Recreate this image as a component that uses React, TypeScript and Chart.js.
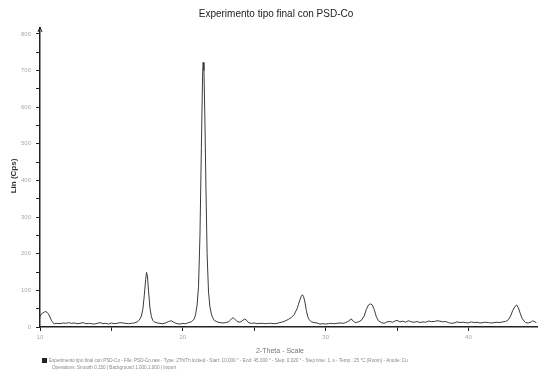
import React, { useEffect, useRef } from "react";
import { Chart, registerables } from "chart.js";

Chart.register(...registerables);

const chartTitle = "Experimento tipo final con PSD-Co";
const xAxisTitle = "2-Theta - Scale";
const yAxisTitle = "Lin (Cps)";
const legendLine1 =
  "Experimento tipo final con PSD-Co - File: PSD-Co.raw - Type: 2Th/Th locked - Start: 10.000 ° - End: 45.000 ° - Step: 0.020 ° - Step time: 1. s - Temp.: 25 °C (Room) - Anode: Cu";
const legendLine2 = "Operations: Smooth 0.150 | Background 1.000,1.000 | Import";

const twoTheta = [
  10.0, 10.1, 10.2, 10.3, 10.4, 10.5, 10.6, 10.7, 10.8, 10.9, 11.0, 11.2, 11.4, 11.6, 11.8,
  12.0, 12.2, 12.4, 12.6, 12.8, 13.0, 13.2, 13.4, 13.6, 13.8, 14.0, 14.2, 14.4, 14.6, 14.8,
  15.0, 15.2, 15.4, 15.6, 15.8, 16.0, 16.2, 16.4, 16.6, 16.8, 16.9, 17.0, 17.1, 17.2, 17.3,
  17.4, 17.46, 17.52, 17.6, 17.7, 17.8, 17.9, 18.0, 18.2, 18.4, 18.6, 18.8, 19.0, 19.2, 19.4,
  19.6, 19.8, 20.0, 20.2, 20.4, 20.6, 20.8, 20.9, 21.0, 21.1, 21.2, 21.3, 21.38, 21.42, 21.48,
  21.55, 21.62, 21.7, 21.8, 21.9, 22.0, 22.1, 22.2, 22.4, 22.6, 22.8, 23.0, 23.2, 23.4, 23.5,
  23.6, 23.8, 24.0, 24.2, 24.34, 24.5, 24.6, 24.8, 25.0, 25.2, 25.4, 25.6, 25.8, 26.0, 26.2,
  26.4, 26.6, 26.8, 27.0, 27.2, 27.4, 27.6, 27.8, 28.0, 28.1, 28.2, 28.3, 28.37, 28.45, 28.55,
  28.65, 28.75, 28.85, 29.0, 29.2, 29.4, 29.6, 29.8, 30.0, 30.2, 30.4, 30.6, 30.8, 31.0, 31.2,
  31.4, 31.6, 31.8, 31.95, 32.1, 32.3, 32.5, 32.7, 32.85, 33.0, 33.12, 33.25, 33.4, 33.55, 33.7,
  33.9, 34.1, 34.3, 34.5, 34.7, 34.9, 35.0, 35.2, 35.4, 35.6, 35.8, 36.0, 36.2, 36.4, 36.6,
  36.8, 37.0, 37.2, 37.4, 37.6, 37.8, 38.0, 38.2, 38.4, 38.6, 38.8, 39.0, 39.2, 39.4, 39.6,
  39.8, 40.0, 40.2, 40.4, 40.6, 40.8, 41.0, 41.2, 41.4, 41.6, 41.8, 42.0, 42.2, 42.4, 42.6,
  42.8, 42.95, 43.1, 43.25, 43.38, 43.5, 43.62, 43.75, 43.9, 44.0, 44.2, 44.4, 44.5, 44.6, 44.75,
];

const counts = [
  28, 36, 38, 41, 42, 40, 35, 27, 18, 12, 9, 10, 9, 11, 10,
  12, 10, 11, 9, 10, 12, 9, 10, 9, 8, 10, 12, 9, 10, 8,
  11, 9, 10, 12, 11, 10, 9, 10, 11, 14, 17, 22, 30, 48, 85,
  130, 149, 140, 98, 52, 28, 18, 14, 11, 10, 9, 11, 15, 17, 12,
  9, 8, 10, 9, 12, 14, 22, 35, 60, 110, 250, 490, 680, 722, 700,
  560, 380, 200, 95, 55, 35, 25, 18, 14, 12, 11, 12, 14, 22, 25,
  23, 15, 13, 18, 22, 17, 12, 10, 11, 9, 10, 10, 9, 10, 10,
  9, 10, 12, 14, 17, 21, 26, 34, 50, 62, 74, 84, 88, 84, 68,
  45, 28, 20, 14, 12, 11, 8, 9, 8, 9, 10, 9, 10, 11, 10,
  12, 16, 22, 15, 12, 14, 18, 30, 48, 60, 63, 61, 48, 28, 17,
  12, 10, 14, 15, 13, 17, 18, 14, 16, 13, 17, 14, 13, 15, 12,
  14, 13, 16, 15, 15, 17, 16, 14, 15, 12, 10, 11, 14, 12, 13,
  12, 11, 14, 12, 13, 11, 12, 13, 12, 11, 12, 13, 12, 14, 15,
  20, 30, 45, 56, 60, 52, 38, 24, 16, 12, 11, 14, 17, 15, 12,
];

const xMin = 10;
const xMax = 44.8;
const yMin = 0;
const yMax = 816;

const textPlugin = {
  id: "xrdTexts",
  afterDraw(chart: any) {
    const ctx = chart.ctx as CanvasRenderingContext2D;
    const area = chart.chartArea;
    ctx.save();
    // title
    ctx.fillStyle = "#222";
    ctx.font = "10px 'Liberation Sans', Arial, sans-serif";
    ctx.textAlign = "center";
    ctx.textBaseline = "middle";
    ctx.fillText(chartTitle, 276, 14);
    // y axis title
    ctx.save();
    ctx.translate(14, 176);
    ctx.rotate(-Math.PI / 2);
    ctx.font = "bold 8px 'Liberation Sans', Arial, sans-serif";
    ctx.fillStyle = "#333";
    ctx.fillText(yAxisTitle, 0, 0);
    ctx.restore();
    // arrow at top of y axis
    ctx.strokeStyle = "#222";
    ctx.lineWidth = 1;
    ctx.beginPath();
    ctx.moveTo(area.left - 2, area.top + 4);
    ctx.lineTo(area.left, area.top - 1);
    ctx.lineTo(area.left + 2, area.top + 4);
    ctx.stroke();
    // x axis title
    ctx.font = "7px 'Liberation Sans', Arial, sans-serif";
    ctx.fillStyle = "#777";
    ctx.fillText(xAxisTitle, 280, 351);
    // legend
    ctx.fillStyle = "#222";
    ctx.fillRect(42, 358, 5, 5);
    ctx.font = "4.6px 'Liberation Sans', Arial, sans-serif";
    ctx.fillStyle = "#888";
    ctx.textAlign = "left";
    ctx.fillText(legendLine1, 49, 361);
    ctx.fillText(legendLine2, 52, 368);
    ctx.restore();
  },
};

export default function App() {
  const canvasRef = useRef<HTMLCanvasElement | null>(null);

  useEffect(() => {
    document.body.style.margin = "0";
    const canvas = canvasRef.current;
    if (!canvas) return;
    const points = twoTheta.map((x, i) => ({ x, y: counts[i] }));
    const chart = new Chart(canvas, {
      type: "line",
      data: {
        datasets: [
          {
            label: chartTitle,
            data: points,
            borderColor: "#3a3a3a",
            borderWidth: 1,
            pointRadius: 0,
            tension: 0,
            fill: false,
          },
        ],
      },
      options: {
        animation: false,
        responsive: false,
        maintainAspectRatio: false,
        layout: { padding: { top: 28, right: 1, left: 0, bottom: 0 } },
        plugins: {
          legend: { display: false },
          title: { display: false },
          tooltip: { enabled: false },
        },
        scales: {
          x: {
            type: "linear",
            min: xMin,
            max: xMax,
            afterFit: (axis: any) => {
              axis.height = 46;
            },
            border: { color: "#222", width: 1.5 },
            grid: { drawOnChartArea: false, color: "#222", tickLength: 4 },
            ticks: {
              stepSize: 5,
              includeBounds: false,
              autoSkip: false,
              maxRotation: 0,
              padding: 3,
              color: "#aaa",
              font: { size: 6, family: "'Liberation Sans', Arial, sans-serif" },
              callback: (v: any) => (Number(v) % 10 === 0 ? String(v) : ""),
            },
          },
          y: {
            type: "linear",
            min: yMin,
            max: yMax,
            afterFit: (axis: any) => {
              axis.width = 40;
            },
            border: { color: "#222", width: 1.5 },
            grid: { drawOnChartArea: false, color: "#222", tickLength: 4 },
            ticks: {
              stepSize: 50,
              includeBounds: false,
              autoSkip: false,
              padding: 5,
              color: "#aaa",
              font: { size: 6, family: "'Liberation Sans', Arial, sans-serif" },
              callback: (v: any) => (Number(v) % 100 === 0 ? String(v) : ""),
            },
          },
        },
      },
      plugins: [textPlugin],
    } as any);
    return () => chart.destroy();
  }, []);

  return (
    <div style={{ position: "absolute", left: 0, top: 0, width: 538, height: 373, background: "#fff" }}>
      <canvas ref={canvasRef} width={538} height={373} style={{ width: 538, height: 373 }} />
    </div>
  );
}
